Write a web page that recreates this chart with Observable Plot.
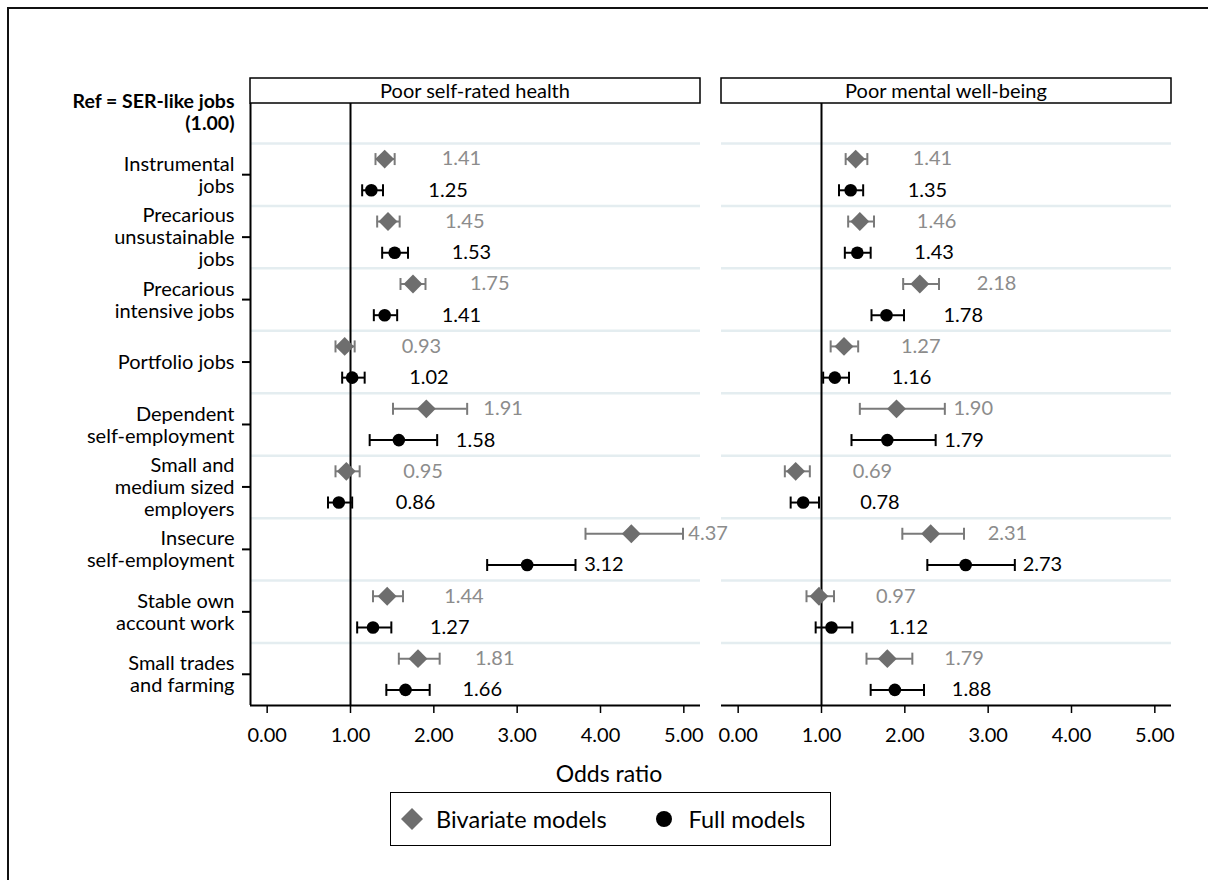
<!DOCTYPE html>
<html>
<head>
<meta charset="utf-8">
<script src="https://cdn.jsdelivr.net/npm/d3@7"></script>
<script src="https://cdn.jsdelivr.net/npm/@observablehq/plot@0.6"></script>
<style>
  html, body { margin: 0; padding: 0; background: #fff; overflow: hidden; }
  body { width: 1208px; height: 880px; position: relative; font-family: Lato, "Open Sans", sans-serif; }
  #frame { position: absolute; left: 7px; top: 7px; width: 1400px; height: 1100px; border-left: 2.5px solid #111; border-top: 2.5px solid #111; box-sizing: border-box; }
  #chart { position: absolute; left: 0; top: 0; }
  #xlabel { position: absolute; left: 0; width: 1218px; top: 759px; text-align: center; font-size: 23px; color: #000; }
  #legend { position: absolute; left: 390px; top: 792px; width: 441px; height: 54px; border: 1.5px solid #000; box-sizing: border-box; display: flex; align-items: center; font-size: 23.5px; }
  #legend .item { display: flex; align-items: center; }
  #legend svg { display: block; }
</style>
</head>
<body>
<div id="frame"></div>
<div id="chart"></div>
<div id="xlabel">Odds ratio</div>
<div id="legend"></div>
<script>
// ---- Data ----
const outcomes = ["Poor self-rated health", "Poor mental well-being"];
const models = ["Bivariate models", "Full models"];
const categories = [
  "Instrumental\njobs",
  "Precarious\nunsustainable\njobs",
  "Precarious\nintensive jobs",
  "Portfolio jobs",
  "Dependent\nself-employment",
  "Small and\nmedium sized\nemployers",
  "Insecure\nself-employment",
  "Stable own\naccount work",
  "Small trades\nand farming"
];
const refLabel = "Ref = SER-like jobs\n(1.00)";

// Poor self-rated health
const srhBivOR = [1.41, 1.45, 1.75, 0.93, 1.91, 0.95, 4.37, 1.44, 1.81];
const srhBivLo = [1.30, 1.32, 1.60, 0.82, 1.51, 0.82, 3.82, 1.27, 1.58];
const srhBivHi = [1.53, 1.59, 1.90, 1.05, 2.40, 1.11, 4.99, 1.63, 2.07];
const srhFullOR = [1.25, 1.53, 1.41, 1.02, 1.58, 0.86, 3.12, 1.27, 1.66];
const srhFullLo = [1.14, 1.38, 1.28, 0.90, 1.23, 0.73, 2.64, 1.08, 1.43];
const srhFullHi = [1.39, 1.69, 1.56, 1.17, 2.04, 1.02, 3.70, 1.49, 1.95];

// Poor mental well-being
const mwbBivOR = [1.41, 1.46, 2.18, 1.27, 1.90, 0.69, 2.31, 0.97, 1.79];
const mwbBivLo = [1.29, 1.32, 1.98, 1.11, 1.46, 0.56, 1.97, 0.82, 1.54];
const mwbBivHi = [1.55, 1.63, 2.41, 1.44, 2.48, 0.86, 2.71, 1.15, 2.09];
const mwbFullOR = [1.35, 1.43, 1.78, 1.16, 1.79, 0.78, 2.73, 1.12, 1.88];
const mwbFullLo = [1.21, 1.28, 1.60, 1.02, 1.36, 0.63, 2.27, 0.93, 1.59];
const mwbFullHi = [1.50, 1.59, 1.99, 1.33, 2.37, 0.97, 3.32, 1.37, 2.23];

const xTicks = [0, 1, 2, 3, 4, 5];
const xDomain = [-0.2, 5.2];

// ---- Build table ----
const series = [
  [outcomes[0], models[0], srhBivOR, srhBivLo, srhBivHi],
  [outcomes[0], models[1], srhFullOR, srhFullLo, srhFullHi],
  [outcomes[1], models[0], mwbBivOR, mwbBivLo, mwbBivHi],
  [outcomes[1], models[1], mwbFullOR, mwbFullLo, mwbFullHi]
];
const rows = [];
for (const [outcome, model, ors, los, his] of series) {
  ors.forEach((or, i) => {
    rows.push({
      outcome, model, cat: i + 1,
      y: i + 1 + (model === models[0] ? -0.25 : 0.25),
      or, lo: los[i], hi: his[i]
    });
  });
}
const biv = rows.filter(d => d.model === models[0]);
const full = rows.filter(d => d.model === models[1]);

const grayMark = "#6e6e6e";
const grayLine = "#7a7a7a";
const grayText = "#8c8c8c";
const colorOf = d => d.model === models[0] ? grayLine : "#000";
const textColorOf = d => d.model === models[0] ? grayText : "#000";

const capSymbol = { draw(ctx) { ctx.moveTo(0, -6); ctx.lineTo(0, 6); } };

const yDomain = [categories.length + 0.5, -0.14];
const gridYs = d3.range(0.5, categories.length, 1);

const font = "Lato, 'Open Sans', sans-serif";

const plot = Plot.plot({
  width: 1208,
  height: 790,
  marginTop: 103,
  marginBottom: 85,
  marginLeft: 249,
  marginRight: 37,
  style: { fontFamily: font, fontSize: "20px", color: "#000", background: "transparent" },
  fx: { domain: outcomes, paddingInner: 0.0454, paddingOuter: 0, axis: null },
  x: { domain: xDomain },
  y: { domain: yDomain, axis: null },
  marks: [
    Plot.ruleY(gridYs, { stroke: "#e4edf0", strokeWidth: 2.5 }),
    Plot.ruleX([1], { stroke: "#000", strokeWidth: 2 }),
    Plot.ruleX([{ outcome: outcomes[0] }], { x: () => xDomain[0], fx: "outcome", stroke: "#000", strokeWidth: 2 }),
    Plot.ruleY([yDomain[0]], { stroke: "#000", strokeWidth: 2 }),
    Plot.ruleY(rows, { y: "y", x1: "lo", x2: "hi", fx: "outcome", stroke: colorOf, strokeWidth: 2 }),
    Plot.dot(rows, { x: "lo", y: "y", fx: "outcome", symbol: capSymbol, stroke: colorOf, strokeWidth: 2, fill: "none" }),
    Plot.dot(rows, { x: "hi", y: "y", fx: "outcome", symbol: capSymbol, stroke: colorOf, strokeWidth: 2, fill: "none" }),
    Plot.dot(biv, { x: "or", y: "y", fx: "outcome", symbol: "diamond2", r: 8.5, fill: grayMark, stroke: "none" }),
    Plot.dot(full, { x: "or", y: "y", fx: "outcome", symbol: "circle", r: 6.3, fill: "#000", stroke: "none" }),
    Plot.text(rows, { x: "or", y: "y", fx: "outcome", text: d => d.or.toFixed(2), dx: 57, textAnchor: "start", fill: textColorOf, fontSize: 20 }),
    Plot.text([{ outcome: outcomes[0], t: refLabel }], { x: () => xDomain[0], y: () => 0, fx: "outcome", text: "t", textAnchor: "end", dx: -16, fontWeight: "bold", fontSize: 19.5, lineHeight: 1.1, fill: "#000" }),
    Plot.axisY(d3.range(1, categories.length + 1), { anchor: "left", tickFormat: i => categories[i - 1], tickSize: 8, tickPadding: 8, fontSize: 20, lineHeight: 1.1, strokeWidth: 2, label: null }),
    Plot.axisX(xTicks, { tickFormat: d3.format(".2f"), tickSize: 8, tickPadding: 14, fontSize: 20, strokeWidth: 1.5, label: null })
  ]
});
document.getElementById("chart").appendChild(plot);

// Facet strip boxes, placed with the fx scale
const fx = plot.scale("fx");
const svg = d3.select(plot);
for (const o of outcomes) {
  const x0 = fx.apply(o);
  const g = svg.append("g");
  g.append("rect").attr("x", x0).attr("y", 78).attr("width", fx.bandwidth).attr("height", 25)
    .attr("fill", "white").attr("stroke", "#000").attr("stroke-width", 1.5);
  g.append("text").attr("x", x0 + fx.bandwidth / 2).attr("y", 91).attr("dy", "0.35em")
    .attr("text-anchor", "middle").attr("font-size", 20).attr("font-family", font).attr("fill", "#000").text(o);
}

// Legend
const legend = document.getElementById("legend");
legend.innerHTML = `
  <div class="item" style="margin-left:9px;">
    <svg width="24" height="24"><path d="M12,1L23,12L12,23L1,12Z" fill="${grayMark}"/></svg>
    <span style="margin-left:12px;">${models[0]}</span>
  </div>
  <div class="item" style="margin-left:48px;">
    <svg width="18" height="18"><circle cx="9" cy="9" r="8" fill="#000"/></svg>
    <span style="margin-left:16px;">${models[1]}</span>
  </div>`;
</script>
</body>
</html>
